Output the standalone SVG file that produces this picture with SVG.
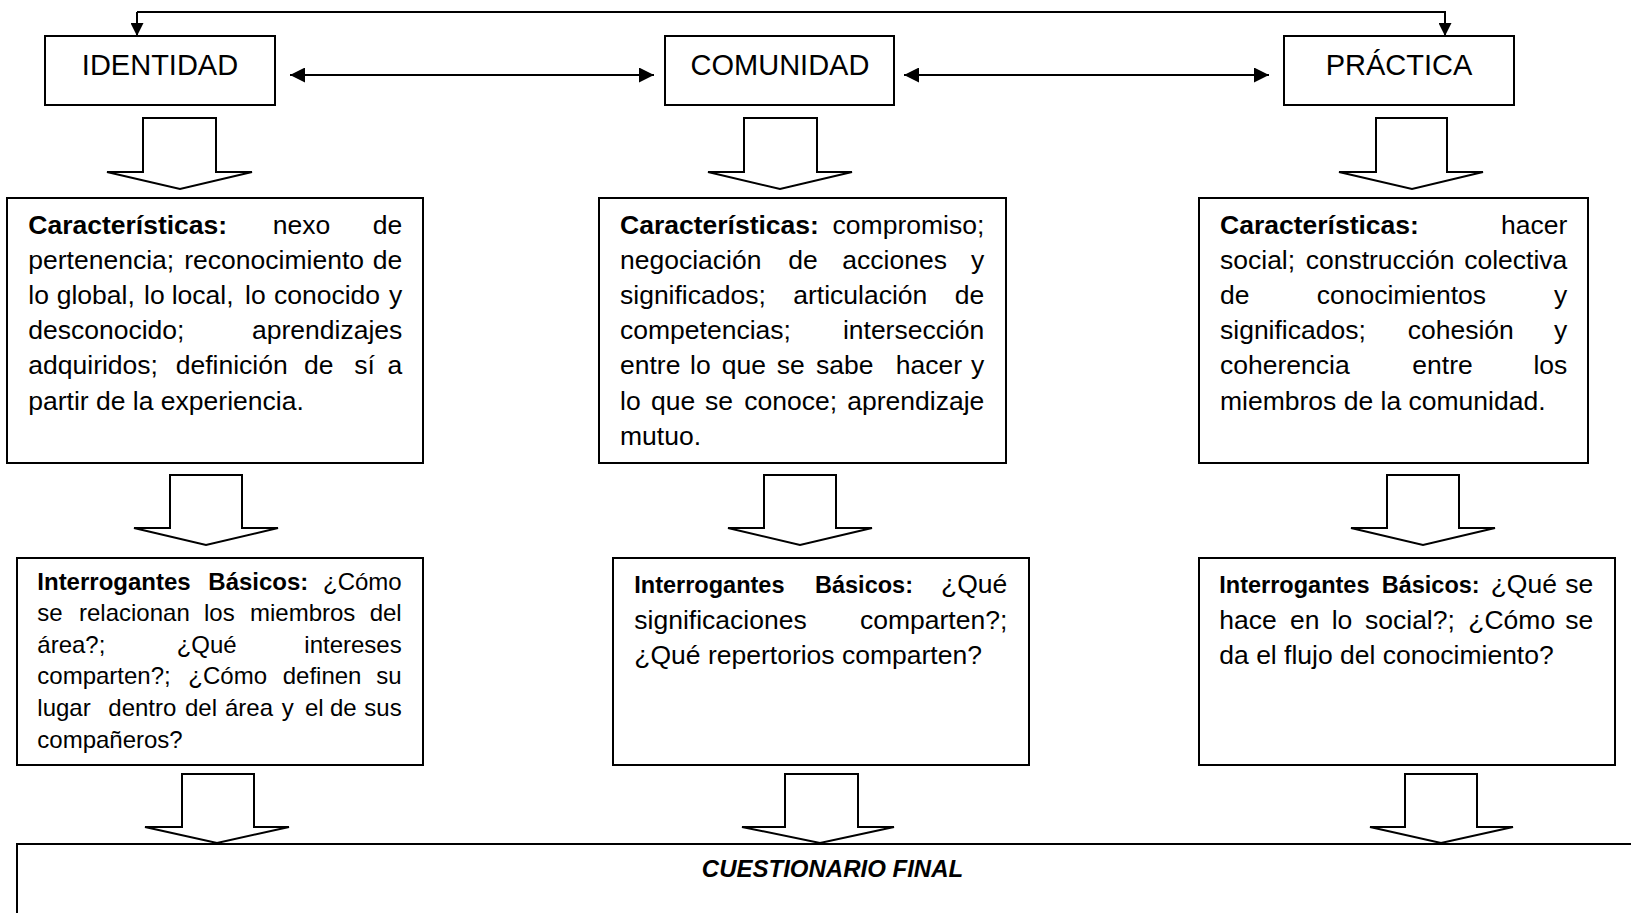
<svg xmlns="http://www.w3.org/2000/svg" width="1631" height="913" viewBox="0 0 1631 913">
<style>
.box{fill:#fff;stroke:#000;stroke-width:2}
.blk{fill:#fff;stroke:#000;stroke-width:2;stroke-linejoin:miter}
.ln{fill:none;stroke:#000;stroke-width:2}
text{font-family:"Liberation Sans",Arial,sans-serif;fill:#000}
.h{font-size:29px;text-anchor:middle}
.t{font-size:26.5px}
.s{font-size:24px}
.b{font-weight:bold}
.bs{font-weight:bold;font-size:23.5px}
.e{text-anchor:end}
.f{font-size:24px;font-weight:bold;font-style:italic;text-anchor:middle}
</style>
<defs>
<marker id="ah" markerUnits="userSpaceOnUse" markerWidth="15" markerHeight="15" refX="15" refY="7.5" orient="auto-start-reverse" viewBox="0 0 15 15">
<path d="M0,0 L15,7.5 L0,15 z" fill="#000"/>
</marker>
<marker id="ah2" markerUnits="userSpaceOnUse" markerWidth="13" markerHeight="13" refX="13" refY="6.5" orient="auto" viewBox="0 0 13 13">
<path d="M0,0 L13,6.5 L0,13 z" fill="#000"/>
</marker>
</defs>

<g id="connectors">
<path class="ln" d="M137,12 H1445 V36" marker-end="url(#ah2)"/>
<path class="ln" d="M137,12 V36" marker-end="url(#ah2)"/>
<path class="ln" d="M290,75 H654" marker-start="url(#ah)" marker-end="url(#ah)"/>
<path class="ln" d="M904,75 H1269" marker-start="url(#ah)" marker-end="url(#ah)"/>
<polygon class="blk" points="143,118 216,118 216,172 252,172 180,189 107,172 143,172"/>
<polygon class="blk" points="744,118 817,118 817,172 852,172 780,189 708,172 744,172"/>
<polygon class="blk" points="1376,118 1447,118 1447,172 1483,172 1412,189 1339,172 1376,172"/>
<polygon class="blk" points="170,475 242,475 242,528 278,528 206,545 134,528 170,528"/>
<polygon class="blk" points="764,475 836,475 836,528 872,528 800,545 728,528 764,528"/>
<polygon class="blk" points="1387,475 1459,475 1459,528 1495,528 1423,545 1351,528 1387,528"/>
<polygon class="blk" points="182,774 254,774 254,827 289,827 217,843 145,827 182,827"/>
<polygon class="blk" points="785,774 858,774 858,827 894,827 820,843 742,827 785,827"/>
<polygon class="blk" points="1405,774 1477,774 1477,827 1513,827 1441,843 1370,827 1405,827"/>
</g>

<g id="identidad">
<rect class="box" x="45" y="36" width="230" height="69"/>
<text class="h" x="160" y="75">IDENTIDAD</text>
</g>
<g id="comunidad">
<rect class="box" x="665" y="36" width="229" height="69"/>
<text class="h" x="780" y="75">COMUNIDAD</text>
</g>
<g id="practica">
<rect class="box" x="1284" y="36" width="230" height="69"/>
<text class="h" x="1399" y="75">PRÁCTICA</text>
</g>

<g id="caracteristicas-identidad">
<rect class="box" x="7" y="198" width="416" height="265"/>
<text class="t" y="233.5"><tspan class="b" x="28.3">Características:</tspan><tspan x="272.7">nexo</tspan><tspan class="e" x="402.3">de</tspan></text>
<text class="t" y="268.7"><tspan x="28.3">pertenencia;</tspan><tspan x="184.3">reconocimiento</tspan><tspan class="e" x="402.3">de</tspan></text>
<text class="t" y="303.9"><tspan x="28.3">lo</tspan><tspan x="56.7">global,</tspan><tspan x="144">lo</tspan><tspan x="171.7">local,</tspan><tspan x="245">lo</tspan><tspan x="274">conocido</tspan><tspan class="e" x="402.3">y</tspan></text>
<text class="t" y="339.1"><tspan x="28.3">desconocido;</tspan><tspan class="e" x="402.3">aprendizajes</tspan></text>
<text class="t" y="374.3"><tspan x="28.3">adquiridos;</tspan><tspan x="175.7">definición</tspan><tspan x="304">de</tspan><tspan x="354.3">sí</tspan><tspan class="e" x="402.3">a</tspan></text>
<text class="t" x="28.3" y="409.5">partir de la experiencia.</text>
</g>

<g id="caracteristicas-comunidad">
<rect class="box" x="599" y="198" width="407" height="265"/>
<text class="t" y="233.5"><tspan class="b" x="620">Características:</tspan><tspan class="e" x="984.3">compromiso;</tspan></text>
<text class="t" y="268.7"><tspan x="620">negociación</tspan><tspan x="788.3">de</tspan><tspan x="842.3">acciones</tspan><tspan class="e" x="984.3">y</tspan></text>
<text class="t" y="303.9"><tspan x="620">significados;</tspan><tspan x="793.3">articulación</tspan><tspan class="e" x="984.3">de</tspan></text>
<text class="t" y="339.1"><tspan x="620">competencias;</tspan><tspan class="e" x="984.3">intersección</tspan></text>
<text class="t" y="374.3"><tspan x="620">entre</tspan><tspan x="690">lo</tspan><tspan x="721.7">que</tspan><tspan x="776.7">se</tspan><tspan x="816">sabe</tspan><tspan x="895.7">hacer</tspan><tspan class="e" x="984.3">y</tspan></text>
<text class="t" y="409.5"><tspan x="620">lo</tspan><tspan x="651">que</tspan><tspan x="705">se</tspan><tspan x="744.3">conoce;</tspan><tspan class="e" x="984.3">aprendizaje</tspan></text>
<text class="t" x="620" y="444.7">mutuo.</text>
</g>

<g id="caracteristicas-practica">
<rect class="box" x="1199" y="198" width="389" height="265"/>
<text class="t" y="233.5"><tspan class="b" x="1220">Características:</tspan><tspan class="e" x="1567.3">hacer</tspan></text>
<text class="t" y="268.7"><tspan x="1220">social;</tspan><tspan x="1305.7">construcción</tspan><tspan class="e" x="1567.3">colectiva</tspan></text>
<text class="t" y="303.9"><tspan x="1220">de</tspan><tspan x="1316.7">conocimientos</tspan><tspan class="e" x="1567.3">y</tspan></text>
<text class="t" y="339.1"><tspan x="1220">significados;</tspan><tspan x="1407.7">cohesión</tspan><tspan class="e" x="1567.3">y</tspan></text>
<text class="t" y="374.3"><tspan x="1220">coherencia</tspan><tspan x="1412.3">entre</tspan><tspan class="e" x="1567.3">los</tspan></text>
<text class="t" x="1220" y="409.5">miembros de la comunidad.</text>
</g>

<g id="interrogantes-identidad">
<rect class="box" x="17" y="558" width="406" height="207"/>
<text class="s" y="589.5"><tspan class="b" x="37.3">Interrogantes</tspan><tspan class="b" x="208.3">Básicos:</tspan><tspan class="e" x="401.7">¿Cómo</tspan></text>
<text class="s" y="621.1"><tspan x="37.3">se</tspan><tspan x="79">relacionan</tspan><tspan x="204">los</tspan><tspan x="250">miembros</tspan><tspan class="e" x="401.7">del</tspan></text>
<text class="s" y="652.7"><tspan x="37.3">área?;</tspan><tspan x="176.7">¿Qué</tspan><tspan class="e" x="401.7">intereses</tspan></text>
<text class="s" y="684.3"><tspan x="37.3">comparten?;</tspan><tspan x="188.3">¿Cómo</tspan><tspan x="282.7">definen</tspan><tspan class="e" x="401.7">su</tspan></text>
<text class="s" y="715.9"><tspan x="37.3">lugar</tspan><tspan x="108.3">dentro</tspan><tspan x="185">del</tspan><tspan x="225">área</tspan><tspan x="281.7">y</tspan><tspan x="305">el</tspan><tspan x="330">de</tspan><tspan class="e" x="401.7">sus</tspan></text>
<text class="s" x="37.3" y="747.5">compañeros?</text>
</g>

<g id="interrogantes-comunidad">
<rect class="box" x="613" y="558" width="416" height="207"/>
<text class="t" y="593.3"><tspan class="bs" x="634.3">Interrogantes</tspan><tspan class="bs" x="815">Básicos:</tspan><tspan class="e" x="1007.3">¿Qué</tspan></text>
<text class="t" y="628.5"><tspan x="634.3">significaciones</tspan><tspan class="e" x="1007.3">comparten?;</tspan></text>
<text class="t" x="634.3" y="663.7">¿Qué repertorios comparten?</text>
</g>

<g id="interrogantes-practica">
<rect class="box" x="1199" y="558" width="416" height="207"/>
<text class="t" y="593.3"><tspan class="bs" x="1219.3">Interrogantes</tspan><tspan class="bs" x="1381.7">Básicos:</tspan><tspan x="1490.7">¿Qué</tspan><tspan class="e" x="1593.3">se</tspan></text>
<text class="t" y="628.5"><tspan x="1219.3">hace</tspan><tspan x="1290">en</tspan><tspan x="1331.7">lo</tspan><tspan x="1365">social?;</tspan><tspan x="1468.3">¿Cómo</tspan><tspan class="e" x="1593.3">se</tspan></text>
<text class="t" x="1219.3" y="663.7">da el flujo del conocimiento?</text>
</g>

<g id="cuestionario-final">
<rect class="box" x="17" y="844" width="1640" height="100"/>
<text class="f" x="832.5" y="877">CUESTIONARIO FINAL</text>
</g>
</svg>
